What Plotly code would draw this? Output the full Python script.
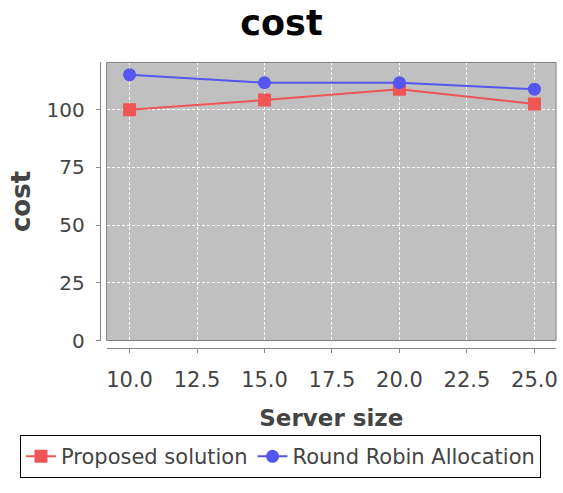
import plotly.graph_objects as go

server_size = [10, 15, 20, 25]
proposed = [100.0, 104.2, 108.9, 102.5]
round_robin = [115.2, 111.7, 111.7, 108.9]
series_names = ["Proposed solution", "Round Robin Allocation"]

W, H = 563, 493
# plot area in pixels
PL, PR, PT, PB = 107, 558, 64, 349
YAX_X, XAX_Y = 100, 357

fig = go.Figure()
fig.add_trace(go.Scatter(x=server_size, y=proposed, name=series_names[0], mode="lines+markers",
                         line=dict(color="#F05555", width=2),
                         marker=dict(symbol="square", size=13, color="#F05555")))
fig.add_trace(go.Scatter(x=server_size, y=round_robin, name=series_names[1], mode="lines+markers",
                         line=dict(color="#5555F0", width=2),
                         marker=dict(symbol="circle", size=13, color="#5555F0")))

title_font = dict(family="DejaVu Sans", size=23, color="#444444", weight="bold")

fig.update_layout(
    width=W, height=H,
    margin=dict(l=0, r=0, t=0, b=0),
    paper_bgcolor="white",
    plot_bgcolor="#C0C0C0",
    title=dict(text="<b>cost</b>", x=0.5, xanchor="center", y=1 - 23 / H, yanchor="middle",
               font=dict(family="DejaVu Sans", size=35, color="black")),
    xaxis=dict(domain=[PL / W, PR / W], anchor="free", position=1 - XAX_Y / H,
               range=[9.15, 25.8], dtick=2.5, tick0=10, tickformat=".1f",
               showline=True, linecolor="#888888", linewidth=1,
               ticks="outside", ticklen=4, tickcolor="#888888", ticklabelstandoff=8,
               showgrid=True, gridcolor="white", gridwidth=1, griddash="3px,2px",
               zeroline=False, tickfont=dict(family="DejaVu Sans", size=21, color="#444444"),
               title=dict(text="Server size", font=title_font, standoff=19)),
    yaxis=dict(domain=[1 - PB / H, 1 - PT / H], anchor="free", position=YAX_X / W,
               range=[0, 120.5], dtick=25, tick0=0,
               showline=True, linecolor="#888888", linewidth=1,
               ticks="outside", ticklen=4, tickcolor="#888888", ticklabelstandoff=7,
               showgrid=True, gridcolor="white", gridwidth=1, griddash="3px,2px",
               zeroline=False, tickfont=dict(family="DejaVu Sans", size=20, color="#444444"),
               title=dict(text="cost", font=dict(family="DejaVu Sans", size=26, color="#444444", weight="bold"), standoff=7)),
    legend=dict(orientation="h", x=0.5, xanchor="center", y=1 - 446 / H, yanchor="top",
                bordercolor="black", borderwidth=1, bgcolor="white",
                font=dict(family="DejaVu Sans", size=21, color="#444444"),
                itemwidth=30, tracegroupgap=0),
    shapes=[dict(type="rect", xref="x domain", yref="y domain", x0=0, x1=1, y0=0, y1=1,
                 line=dict(color="#808080", width=1), fillcolor="rgba(0,0,0,0)", layer="above")],
    showlegend=True,
)

fig.write_html("out.html", config={"displayModeBar": False},
               post_script="document.body.style.margin='0';")
